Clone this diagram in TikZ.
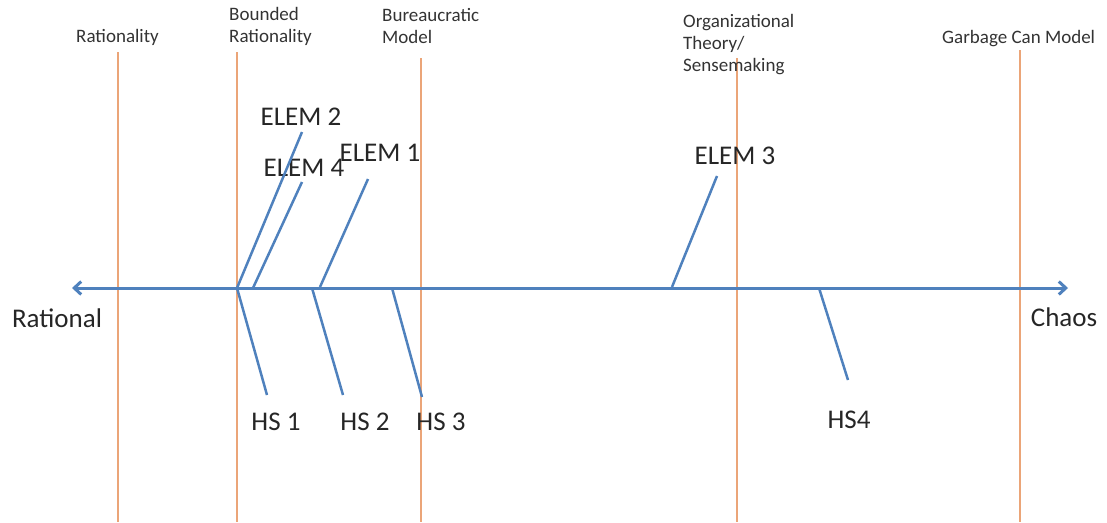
\documentclass[tikz,border=0pt]{standalone}
\usepackage{fontspec}
\setmainfont{Carlito}
\usepackage{xcolor}
\usepackage{tikz}
\usetikzlibrary{arrows.meta}
\definecolor{axisblue}{RGB}{79,129,189}
\definecolor{eraorange}{RGB}{235,165,120}

\begin{document}
\begin{tikzpicture}[
    x=1pt,y=-1pt,
    era/.style={draw=eraorange,line width=2pt},
    bone/.style={draw=axisblue,line width=2.5pt},
    spine/.style={draw=axisblue,line width=3pt,
                  {Straight Barb[length=7pt,width=13pt]}-{Straight Barb[length=7pt,width=13pt]}},
    head/.style={font=\fontsize{19}{22}\selectfont,align=left,anchor=west,
                 inner sep=0pt,text=black!80},
    tag/.style={font=\fontsize{27}{32}\selectfont,inner sep=0pt,text=black!85}
]
\useasboundingbox (0,0) rectangle (1107,522);

% schools of thought along the scale
\coordinate (ratTop) at (118,52);   \coordinate (ratBot) at (118,522);
\coordinate (bndTop) at (237,52);   \coordinate (bndBot) at (237,522);
\coordinate (burTop) at (421,58);   \coordinate (burBot) at (421,522);
\coordinate (orgTop) at (737,58);   \coordinate (orgBot) at (737,522);
\coordinate (gcmTop) at (1020,50);  \coordinate (gcmBot) at (1020,522);
\draw[era] (ratTop) -- (ratBot);
\draw[era] (bndTop) -- (bndBot);
\draw[era] (burTop) -- (burBot);
\draw[era] (orgTop) -- (orgBot);
\draw[era] (gcmTop) -- (gcmBot);

\node[head] (rat) at (76,37)  {Rationality};
\node[head] (bnd) at (229,26) {Bounded\\Rationality};
\node[head] (bur) at (382,26) {Bureaucratic\\Model};
\node[head] (org) at (683,45) {Organizational\\Theory/\\Sensemaking};
\node[head] (gcm) at (942,39) {Garbage Can Model};

% the scale itself
\coordinate (lft) at (72,288);
\coordinate (rgt) at (1068,288);
\draw[spine] (lft) -- (rgt);
\node[tag] (rational) at (57,318)  {Rational};
\node[tag] (chaos)    at (1064,317) {Chaos};

% elements above the scale
\node[tag] (e2) at (301,117) {ELEM 2};
\node[tag] (e4) at (304,168) {ELEM 4};
\node[tag] (e1) at (380,153) {ELEM 1};
\node[tag] (e3) at (735,156) {ELEM 3};
\coordinate (e2base) at (237,288);  \coordinate (e2tip) at (302,132);
\coordinate (e4base) at (253,288);  \coordinate (e4tip) at (302,182);
\coordinate (e1base) at (320,287);  \coordinate (e1tip) at (368,179);
\coordinate (e3base) at (672,287);  \coordinate (e3tip) at (717,176);
\draw[bone] (e2base) -- (e2tip);
\draw[bone] (e4base) -- (e4tip);
\draw[bone] (e1base) -- (e1tip);
\draw[bone] (e3base) -- (e3tip);

% hot spots below the scale
\node[tag] (hs1) at (276,422) {HS 1};
\node[tag] (hs2) at (365,422) {HS 2};
\node[tag] (hs3) at (441,422) {HS 3};
\node[tag] (hs4) at (849,420) {HS4};
\coordinate (h1base) at (237,288);  \coordinate (h1tip) at (267,395);
\coordinate (h2base) at (312,288);  \coordinate (h2tip) at (343,395);
\coordinate (h3base) at (392,288);  \coordinate (h3tip) at (422,397);
\coordinate (h4base) at (819,288);  \coordinate (h4tip) at (848,380);
\draw[bone] (h1base) -- (h1tip);
\draw[bone] (h2base) -- (h2tip);
\draw[bone] (h3base) -- (h3tip);
\draw[bone] (h4base) -- (h4tip);
\end{tikzpicture}
\end{document}
